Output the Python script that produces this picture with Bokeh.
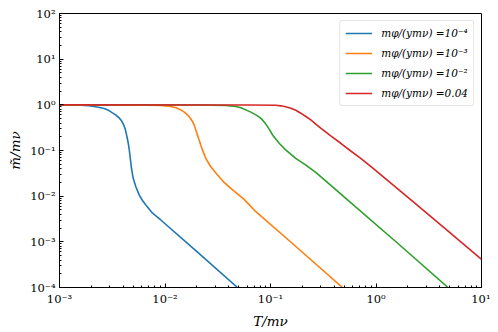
from bokeh.plotting import figure
from bokeh.models import (FixedTicker, CustomJSTickFormatter, Range1d, Legend, LegendItem)
from bokeh.embed import file_html
from bokeh.resources import INLINE

# ---- data ----
T_blue = [1.0e-3, 1.259e-3, 1.592e-3, 1.905e-3, 2.128e-3, 2.399e-3, 2.649e-3, 2.917e-3,
          3.177e-3, 3.428e-3, 3.673e-3, 3.873e-3, 4.046e-3, 4.198e-3, 4.315e-3, 4.416e-3,
          4.508e-3, 4.592e-3, 4.667e-3, 4.808e-3, 4.989e-3, 5.284e-3, 5.689e-3, 6.095e-3,
          6.577e-3, 7.621e-3, 9.120e-3, 1.995e-2, 4.864e-2]
m_blue = [1.0, 0.995, 0.984, 0.955, 0.918, 0.875, 0.830, 0.759,
          0.667, 0.596, 0.518, 0.447, 0.369, 0.295, 0.222, 0.174,
          0.134, 0.100, 0.0745, 0.0412, 0.0249, 0.0163, 0.0107, 0.00813,
          0.00644, 0.00423, 0.00301, 0.000617, 0.0001]

T_orange = [1.0e-3, 5.012e-3, 9.120e-3, 1.135e-2, 1.274e-2, 1.413e-2, 1.524e-2, 1.633e-2,
            1.730e-2, 1.824e-2, 1.897e-2, 1.959e-2, 2.032e-2, 2.104e-2, 2.183e-2, 2.265e-2,
            2.438e-2, 2.716e-2, 3.148e-2, 3.631e-2, 4.207e-2, 5.623e-2, 7.261e-2, 0.1585, 0.4808]
m_orange = [1.0, 0.993, 0.966, 0.918, 0.861, 0.776, 0.692, 0.603,
            0.513, 0.430, 0.355, 0.282, 0.219, 0.170, 0.132, 0.103,
            0.0673, 0.0441, 0.0290, 0.0200, 0.0148, 0.00851, 0.00457, 0.000955, 0.0001]

T_green = [1.0e-3, 1.995e-2, 3.767e-2, 4.688e-2, 5.248e-2, 5.834e-2, 6.501e-2, 7.261e-2,
           7.834e-2, 8.395e-2, 8.872e-2, 9.376e-2, 9.908e-2, 0.1045, 0.1122, 0.1208,
           0.1393, 0.1734, 0.2163, 0.2685, 0.3548, 0.5012, 1.585, 4.819]
m_green = [1.0, 0.993, 0.966, 0.918, 0.861, 0.776, 0.692, 0.603,
           0.537, 0.468, 0.398, 0.333, 0.272, 0.219, 0.178, 0.144,
           0.103, 0.0673, 0.0480, 0.0332, 0.0191, 0.00955, 0.000955, 0.0001]

T_red = [1.0e-3, 6.310e-2, 0.1122, 0.1253, 0.1396, 0.1556, 0.1738, 0.1936,
         0.2163, 0.2410, 0.2685, 0.2992, 0.3724, 0.4634, 0.5768, 0.7161,
         0.8913, 1.995, 4.467, 10.0]
m_red = [1.0, 0.995, 0.977, 0.951, 0.908, 0.845, 0.759, 0.656,
         0.556, 0.468, 0.380, 0.308, 0.208, 0.144, 0.0975, 0.0673,
         0.0449, 0.00955, 0.00200, 0.000412]

labels = ["m\u03c6/(ym\u03bd) =10\u207b\u2074",
          "m\u03c6/(ym\u03bd) =10\u207b\u00b3",
          "m\u03c6/(ym\u03bd) =10\u207b\u00b2",
          "m\u03c6/(ym\u03bd) =0.04"]
colors = ["#1f77b4", "#ff7f0e", "#2ca02c", "#d62728"]

x_major = [1e-3, 1e-2, 1e-1, 1e0, 1e1]
y_major = [1e-4, 1e-3, 1e-2, 1e-1, 1e0, 1e1, 1e2]

FONT = "DejaVu Serif"

p = figure(frame_width=422, frame_height=274, x_axis_type="log", y_axis_type="log",
           x_range=Range1d(1e-3, 10), y_range=Range1d(1e-4, 1e2),
           output_backend="svg", toolbar_location=None,
           min_border_left=59, min_border_top=13, min_border_right=9, min_border_bottom=37)

p.xgrid.visible = False
p.ygrid.visible = False
p.outline_line_color = "black"
p.outline_line_width = 1
p.background_fill_color = "white"
p.border_fill_color = "white"

fmt_code = """
const e = Math.round(Math.log10(tick));
const sup = {'-':'\u207b','0':'\u2070','1':'\u00b9','2':'\u00b2','3':'\u00b3','4':'\u2074','5':'\u2075','6':'\u2076','7':'\u2077','8':'\u2078','9':'\u2079'};
return '10' + String(e).split('').map(c => sup[c]).join('');
"""

def minors(lo, hi):
    out = []
    for e in range(lo, hi):
        for k in range(2, 10):
            out.append(k * 10.0 ** e)
    return out

p.xaxis.ticker = FixedTicker(ticks=x_major, minor_ticks=minors(-3, 1))
p.yaxis.ticker = FixedTicker(ticks=y_major, minor_ticks=minors(-4, 2))

for ax in (p.xaxis[0], p.yaxis[0]):
    ax.formatter = CustomJSTickFormatter(code=fmt_code)
    ax.major_tick_in = 4
    ax.major_tick_out = 0
    ax.minor_tick_in = 2
    ax.minor_tick_out = 0
    ax.axis_line_color = "black"
    ax.major_tick_line_color = "black"
    ax.minor_tick_line_color = "black"
    ax.major_label_text_font = FONT
    ax.major_label_text_font_size = "11.5px"
    ax.major_label_text_color = "black"
    ax.major_label_standoff = 4
    ax.axis_label_text_font = FONT
    ax.axis_label_text_font_style = "italic"
    ax.axis_label_text_font_size = "13.5px"
    ax.axis_label_text_color = "black"
    ax.axis_label_standoff = 4

p.xaxis.axis_label = "T/m\u03bd"
p.yaxis.axis_label = "m\u0303/m\u03bd"

series = [(T_blue, m_blue), (T_orange, m_orange), (T_green, m_green), (T_red, m_red)]
items = []
for (xs, ys), c, lab in zip(series, colors, labels):
    r = p.line(xs, ys, line_color=c, line_width=1.6)
    items.append(LegendItem(label=lab, renderers=[r]))

leg = Legend(items=items, location="top_right")
leg.margin = 7
leg.padding = 5
leg.spacing = 6
leg.glyph_height = 14
leg.label_height = 14
leg.glyph_width = 27
leg.label_standoff = 9
leg.label_text_font = FONT
leg.label_text_font_style = "italic"
leg.label_text_font_size = "10.5px"
leg.label_text_color = "black"
leg.border_line_color = "#cccccc"
leg.border_line_width = 1
leg.background_fill_alpha = 0.8
if "border_radius" in leg.properties():
    leg.border_radius = 3
p.add_layout(leg, "center")

open("out.html", "w").write(file_html(p, INLINE))
